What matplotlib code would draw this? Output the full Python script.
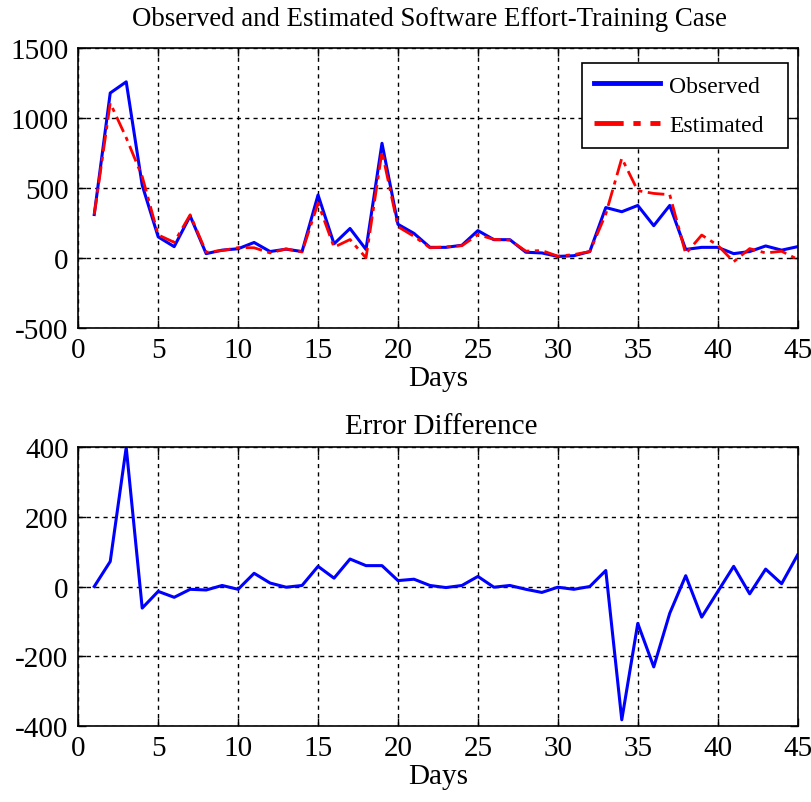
import matplotlib
matplotlib.use('Agg')
import matplotlib.pyplot as plt

# 數據
days = list(range(1, 46))
observed = [310, 1180, 1260, 520, 150, 80, 300, 30, 55, 65,
            110, 45, 62, 45, 450, 100, 210, 60, 820, 240,
            175, 75, 75, 90, 195, 130, 130, 40, 35, 10,
            15, 45, 360, 330, 375, 230, 375, 60, 75, 75,
            30, 45, 85, 55, 80]
estimated = [310, 1108, 860, 582, 164, 111, 308, 40, 52, 73,
             72, 35, 64, 42, 392, 76, 131, 0, 760, 223,
             154, 72, 78, 87, 166, 132, 127, 48, 52, 12,
             23, 45, 314, 713, 481, 461, 452, 29, 163, 90,
             -28, 66, 35, 47, -11]
error_diff = [0, 72, 400, -62, -14, -31, -8, -10, 3, -8,
              38, 10, -2, 3, 58, 24, 79, 60, 60, 17,
              21, 3, -3, 3, 29, -2, 3, -8, -17, -2,
              -8, 0, 46, -383, -106, -231, -77, 31, -88, -15,
              58, -21, 50, 8, 91]

plt.rcParams['font.family'] = ['Liberation Serif', 'DejaVu Serif']
plt.rcParams['axes.unicode_minus'] = False

fig = plt.figure(figsize=(8.11, 8.03), dpi=100)
ax1 = fig.add_axes([0.0965, 0.5907, 0.887, 0.3479])
ax2 = fig.add_axes([0.0965, 0.0950, 0.887, 0.3467])


def style_axis(ax, yticks):
    ax.set_xlim(0, 45)
    ax.set_xticks(range(0, 46, 5))
    ax.set_yticks(yticks)
    ax.set_ylim(yticks[0], yticks[-1])
    ax.grid(True, color='black', linestyle=(0, (3, 3)), linewidth=1)
    ax.tick_params(direction='in', top=True, right=True, labelsize=21,
                   length=6, width=1, pad=7)
    for sp in ax.spines.values():
        sp.set_linewidth(1.2)
    ax.set_xlabel('Days', fontsize=21, labelpad=1)


# 上圖：觀測值與估計值
ax1.plot(days, observed, color='#0000ff', linewidth=2.2, label='Observed')
ax1.plot(days, estimated, color='#ff0000', linewidth=2.0,
         linestyle=(0, (6, 2, 1.5, 2)), label='Estimated')
style_axis(ax1, [-500, 0, 500, 1000, 1500])
ax1.set_title('Observed and Estimated Software Effort-Training Case',
              fontsize=19.3, pad=17, x=0.4875)
leg = ax1.legend(loc='upper left', mode='expand', fontsize=17,
                 fancybox=False, framealpha=1, edgecolor='black',
                 handlelength=2.8, handletextpad=0.4, borderpad=0.5,
                 labelspacing=0.75, borderaxespad=0,
                 bbox_to_anchor=(0.700, 0.5, 0.286, 0.446))
leg.get_frame().set_linewidth(1.2)
for line in leg.get_lines():
    line.set_linewidth(3.5)

# 下圖：誤差差異
ax2.plot(days, error_diff, color='#0000ff', linewidth=2.2)
style_axis(ax2, [-400, -200, 0, 200, 400])
ax2.set_title('Error Difference', fontsize=21, pad=10, x=0.505)

fig.savefig('out.png', dpi=100)
